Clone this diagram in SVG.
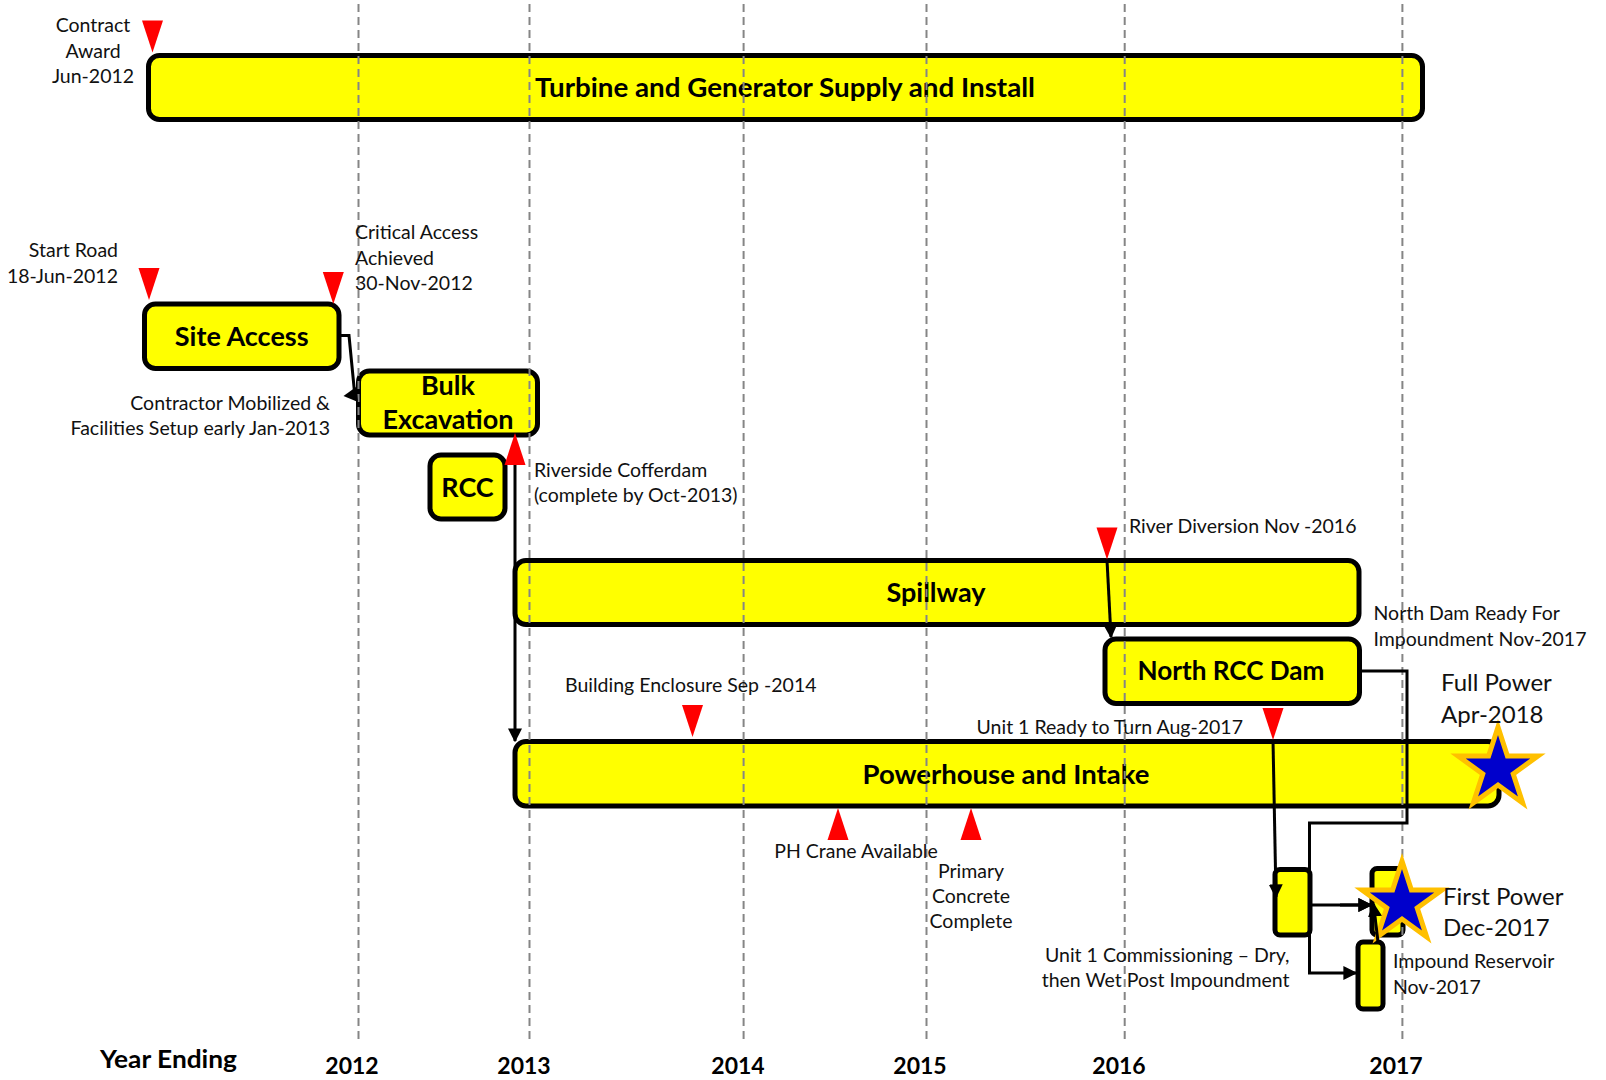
<svg xmlns="http://www.w3.org/2000/svg" width="1606" height="1080" viewBox="0 0 1606 1080">
<style>
.bar{fill:#FFFF00;stroke:#000;stroke-width:5}
.bl{font-family:Lato,"Liberation Sans",sans-serif;font-weight:bold;font-size:27px;fill:#000;text-anchor:middle}
.lb{font-family:Lato,"Liberation Sans",sans-serif;font-size:19.5px;fill:#111}
.big{font-family:Lato,"Liberation Sans",sans-serif;font-size:24px;fill:#111}
.yr{font-family:Lato,"Liberation Sans",sans-serif;font-weight:bold;font-size:23px;fill:#000;text-anchor:middle}
.mid{text-anchor:middle}
.end{text-anchor:end}
.grid{stroke:#858585;stroke-width:2;stroke-dasharray:8 5;fill:none}
.con{stroke:#000;stroke-width:3;fill:none}
.ms{fill:#FF0000}
.star{fill:#0000CC;stroke:#FFC000;stroke-width:5}
</style>
<defs>
<marker id="arr" viewBox="0 0 10 10" refX="9" refY="5" markerWidth="14" markerHeight="14" markerUnits="userSpaceOnUse" orient="auto">
<path d="M0,0 L10,5 L0,10 Z" fill="#000"/>
</marker>
<path id="down" d="M-10.5,0 L10.5,0 L0,32 Z"/>
<path id="up" d="M-10.5,32 L10.5,32 L0,0 Z"/>
<path id="starp" d="M0,-42 L9.4,-12.94 L39.95,-12.98 L15.22,4.94 L24.69,33.98 L0,16 L-24.69,33.98 L-15.22,4.94 L-39.95,-12.98 L-9.4,-12.94 Z"/>
</defs>
<rect width="1606" height="1080" fill="#fff"/>

<g id="turbine">
<rect class="bar" x="148.5" y="55.5" width="1274" height="64" rx="11"/>
<text class="bl" x="785" y="97" textLength="500" lengthAdjust="spacingAndGlyphs">Turbine and Generator Supply and Install</text>
</g>
<g id="site-access">
<rect class="bar" x="144.5" y="304" width="194.5" height="64.5" rx="11"/>
<text class="bl" x="241.7" y="346">Site Access</text>
</g>
<g id="bulk-excavation">
<rect class="bar" x="358.5" y="371" width="179" height="64" rx="11"/>
<text class="bl" x="448" y="394.5">Bulk</text>
<text class="bl" x="448" y="429">Excavation</text>
</g>
<g id="rcc">
<rect class="bar" x="430" y="455" width="75" height="64" rx="11"/>
<text class="bl" x="467.5" y="497">RCC</text>
</g>
<g id="spillway">
<rect class="bar" x="515" y="560.5" width="844" height="64" rx="11"/>
<text class="bl" x="936" y="602">Spillway</text>
</g>
<g id="north-rcc-dam">
<rect class="bar" x="1105" y="639" width="254.5" height="64.5" rx="11"/>
<text class="bl" x="1231" y="680" textLength="187" lengthAdjust="spacingAndGlyphs">North RCC Dam</text>
</g>
<g id="powerhouse">
<rect class="bar" x="515" y="741.5" width="984" height="64.5" rx="11"/>
<text class="bl" x="1006" y="783.5" textLength="287" lengthAdjust="spacingAndGlyphs">Powerhouse and Intake</text>
</g>
<g id="unit1-commissioning">
<rect class="bar" x="1275" y="869.5" width="35" height="65.5" rx="5"/>
</g>
<g id="first-power-box">
<rect class="bar" x="1372" y="868.5" width="31" height="66.5" rx="5"/>
</g>
<g id="impound-reservoir">
<rect class="bar" x="1358" y="942" width="25" height="67" rx="5"/>
</g>

<g id="grid">
<line class="grid" x1="358.5" y1="4" x2="358.5" y2="1042"/>
<line class="grid" x1="529.5" y1="4" x2="529.5" y2="1042"/>
<line class="grid" x1="743.6" y1="4" x2="743.6" y2="1042"/>
<line class="grid" x1="926.5" y1="4" x2="926.5" y2="1042"/>
<line class="grid" x1="1124.7" y1="4" x2="1124.7" y2="1042"/>
<line class="grid" x1="1402.4" y1="4" x2="1402.4" y2="1042"/>
</g>

<g id="connectors">
<path class="con" d="M339,335.5 H349 L354.5,392"/>
<path d="M343.5,396 L356,387 L358,402 Z" fill="#000"/>
<path class="con" d="M515,465 V741" marker-end="url(#arr)"/>
<path class="con" d="M1107,560 L1111,637" marker-end="url(#arr)"/>
<path class="con" d="M1359.5,671 H1407 V823 H1309.5 V973 H1356" marker-end="url(#arr)"/>
<path class="con" d="M1310,905 H1371" marker-end="url(#arr)"/>
<path class="con" d="M1273,740 L1276,897" marker-end="url(#arr)"/>
</g>

<g id="milestones" class="ms">
<use href="#down" x="152.5" y="20.5"/>
<use href="#down" x="149" y="268"/>
<use href="#down" x="333.3" y="272"/>
<use href="#up" x="515" y="433"/>
<use href="#down" x="1107" y="527.5"/>
<use href="#down" x="692.5" y="705"/>
<use href="#down" x="1273" y="708"/>
<use href="#up" x="838" y="808"/>
<use href="#up" x="971" y="808"/>
</g>

<g id="full-power">
<use href="#starp" class="star" x="1498" y="769"/>
</g>
<g id="first-power">
<use href="#starp" class="star" x="1402" y="903"/>
</g>
<g id="connectors-front">
<path class="con" d="M1378,942 L1373.5,904" marker-end="url(#arr)"/>
<path class="con" d="M1340,905 H1371" marker-end="url(#arr)"/>
</g>

<g id="labels">
<text class="lb mid" x="93" y="32">Contract</text>
<text class="lb mid" x="93" y="57.5">Award</text>
<text class="lb mid" x="93" y="83">Jun-2012</text>
<text class="lb end" x="118" y="257">Start Road</text>
<text class="lb end" x="118" y="283">18-Jun-2012</text>
<text class="lb" x="355" y="239">Critical Access</text>
<text class="lb" x="355" y="264.5">Achieved</text>
<text class="lb" x="355" y="290">30-Nov-2012</text>
<text class="lb end" x="330" y="410">Contractor Mobilized &amp;</text>
<text class="lb end" x="330" y="435">Facilities Setup early Jan-2013</text>
<text class="lb" x="534" y="476.5">Riverside Cofferdam</text>
<text class="lb" x="534" y="502">(complete by Oct-2013)</text>
<text class="lb" x="1129" y="533">River Diversion Nov -2016</text>
<text class="lb" x="1373.5" y="620">North Dam Ready For</text>
<text class="lb" x="1373.5" y="645.5">Impoundment Nov-2017</text>
<text class="lb" x="565" y="691.5">Building Enclosure Sep -2014</text>
<text class="lb end" x="1243" y="733.5">Unit 1 Ready to Turn Aug-2017</text>
<text class="lb mid" x="856" y="857.5">PH Crane Available</text>
<text class="lb mid" x="971" y="878">Primary</text>
<text class="lb mid" x="971" y="903">Concrete</text>
<text class="lb mid" x="971" y="928">Complete</text>
<text class="lb end" x="1289.5" y="962">Unit 1 Commissioning – Dry,</text>
<text class="lb end" x="1289.5" y="986.5">then Wet Post Impoundment</text>
<text class="lb" x="1393" y="968">Impound Reservoir</text>
<text class="lb" x="1393" y="993.5">Nov-2017</text>
<text class="big" x="1441" y="691">Full Power</text>
<text class="big" x="1441" y="723">Apr-2018</text>
<text class="big" x="1443" y="904.5">First Power</text>
<text class="big" x="1443" y="936">Dec-2017</text>
</g>

<g id="axis">
<text class="yr" x="100" y="1068" style="text-anchor:start;font-size:24px" textLength="137" lengthAdjust="spacingAndGlyphs">Year Ending</text>
<text class="yr" x="352" y="1074">2012</text>
<text class="yr" x="524" y="1074">2013</text>
<text class="yr" x="738" y="1074">2014</text>
<text class="yr" x="920" y="1074">2015</text>
<text class="yr" x="1119" y="1074">2016</text>
<text class="yr" x="1396" y="1074">2017</text>
</g>
</svg>
